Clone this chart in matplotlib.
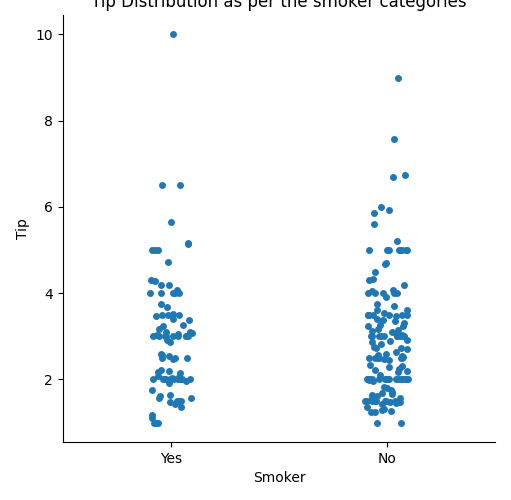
import matplotlib
matplotlib.use("Agg")
import matplotlib.pyplot as plt
import seaborn as sns
import numpy as np
import pandas as pd

categories = ["Yes", "No"]

tips_yes = [10, 6.5, 6.5, 5.65, 5.16, 5.15, 5, 5, 5, 4.73, 4.3, 4.2, 4.08, 4, 4, 4, 4, 4,
            3.76, 3.68, 3.5, 3.5, 3.5, 3.48, 3.41, 3.27, 3.23, 3.18, 3.11, 3.09, 3.08, 3.06,
            3, 3, 3, 3, 3, 3, 3, 3, 2.92, 2.88, 2.6, 2.56, 2.54, 2.5, 2.5, 2.5, 2.23, 2.2,
            2.18, 2.09, 2.03, 2, 2, 2, 2, 2, 2, 2, 2, 2, 2, 2, 2, 1.92, 1.75, 1.61, 1.58,
            1.56, 1.5, 1.5, 1.5, 1.47, 1.44, 1.17, 1.1, 1, 1, 1, 4.29, 3.51, 3.02, 2.01,
            2.05, 2.47, 2.14, 4.19, 3.39, 1.96, 1.36, 1.63, 3.0]

tips_no = [9, 7.58, 6.73, 6.7, 6, 5.92, 5.85, 5.6, 5.2, 5, 5, 5, 5, 5, 5, 5, 5, 4.71, 4.67,
           4.5, 4.34, 4.3, 4.2, 4.08, 4.06, 4, 4, 4, 4, 4, 3.92, 3.76, 3.71, 3.6, 3.55, 3.5,
           3.5, 3.5, 3.5, 3.5, 3.5, 3.5, 3.4, 3.35, 3.31, 3.27, 3.25, 3.23, 3.18, 3.15, 3.12,
           3.07, 3.02, 3, 3, 3, 3, 3, 3, 3, 3, 3, 3, 2.92, 2.83, 2.75, 2.74, 2.72, 2.71, 2.64,
           2.6, 2.56, 2.55, 2.52, 2.5, 2.5, 2.5, 2.5, 2.5, 2.5, 2.47, 2.45, 2.34, 2.31, 2.3,
           2.24, 2.23, 2.2, 2.18, 2.1, 2, 2, 2, 2, 2, 2, 2, 2, 2, 2, 2, 2, 2, 2, 2, 2, 2, 2,
           2, 2, 1.98, 1.96, 1.83, 1.8, 1.76, 1.71, 1.68, 1.66, 1.64, 1.61, 1.58, 1.56, 1.5,
           1.5, 1.5, 1.5, 1.5, 1.5, 1.5, 1.5, 1.48, 1.47, 1.45, 1.44, 1.36, 1.32, 1.3, 1.28,
           1.25, 1.25, 1, 1, 3.39, 2.01, 3.61, 2.88, 3.48, 2.9, 3.09]

df = pd.DataFrame({
    "Smoker": ["Yes"] * len(tips_yes) + ["No"] * len(tips_no),
    "Tip": tips_yes + tips_no,
})

np.random.seed(3)
fig, ax = plt.subplots(figsize=(5.11, 5.0), dpi=100)
fig.subplots_adjust(left=0.123, right=0.969, top=0.97, bottom=0.116)
sns.stripplot(data=df, x="Smoker", y="Tip", order=categories, ax=ax, color="#1f77b4")
sns.despine(ax=ax)
ax.set_title("Tip Distribution as per the smoker categories")
ax.set_yticks([2, 4, 6, 8, 10])
fig.savefig("out.png")
